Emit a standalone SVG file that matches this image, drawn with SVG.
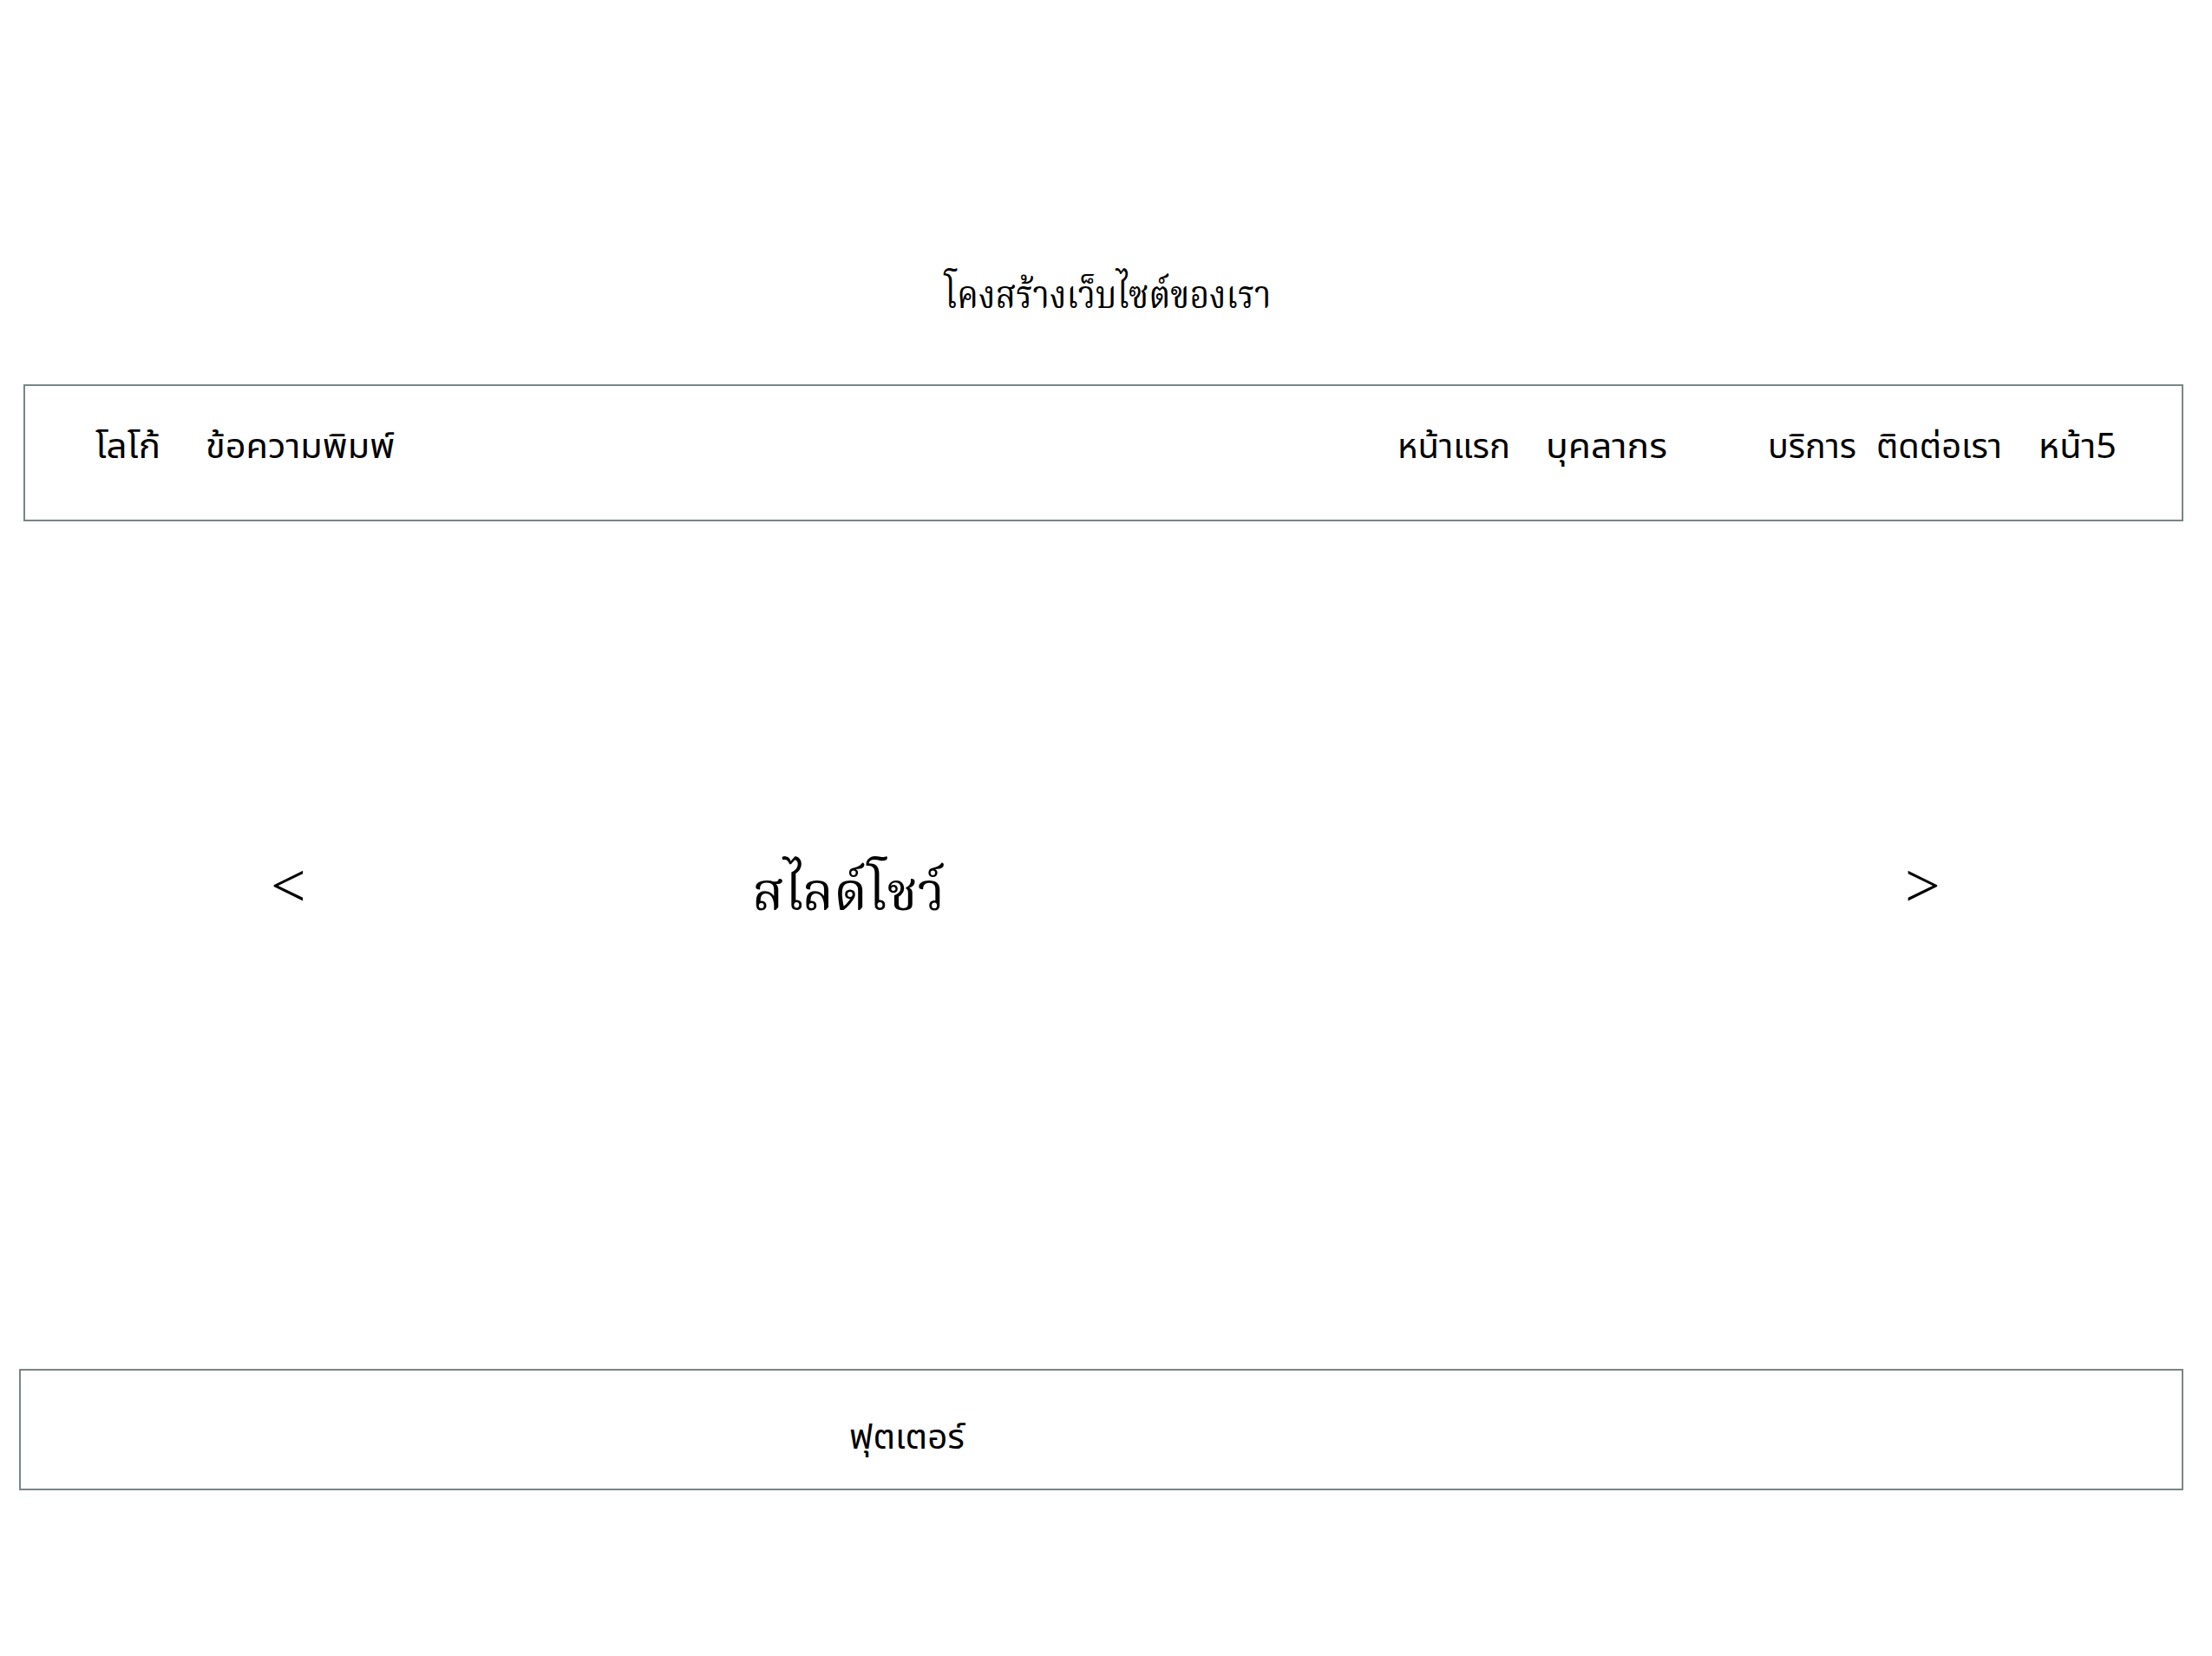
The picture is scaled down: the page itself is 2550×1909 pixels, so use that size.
<svg xmlns="http://www.w3.org/2000/svg" width="2550" height="1909" viewBox="0 0 2550 1909">
<style>
.box{fill:#ffffff;stroke:#7a8585;stroke-width:2}
.serif{font-family:"Noto Serif Thai","Liberation Serif","Noto Sans",serif;fill:#000}
.sans{font-family:"Noto Sans Thai","Noto Sans","Liberation Sans",sans-serif;fill:#000}
.arrow{font-family:"Liberation Serif",serif;fill:#000;font-size:72px}
</style>
<rect x="0" y="0" width="2550" height="1909" fill="#ffffff"/>
<g id="title"><text class="serif" x="1277" y="355" font-size="44" text-anchor="middle" textLength="377" lengthAdjust="spacingAndGlyphs">โคงสร้างเว็บไซต์ของเรา</text></g>
<g id="header">
<rect class="box" x="28" y="444" width="2488" height="156"/>
<text class="sans" x="110" y="528" font-size="40" textLength="75" lengthAdjust="spacingAndGlyphs">โลโก้</text>
<text class="sans" x="237" y="528" font-size="40" textLength="218" lengthAdjust="spacingAndGlyphs">ข้อความพิมพ์</text>
<text class="sans" x="1611" y="528" font-size="40" textLength="130" lengthAdjust="spacingAndGlyphs">หน้าแรก</text>
<text class="sans" x="1782" y="528" font-size="40" textLength="140" lengthAdjust="spacingAndGlyphs">บุคลากร</text>
<text class="sans" x="2038" y="528" font-size="40" textLength="102" lengthAdjust="spacingAndGlyphs">บริการ</text>
<text class="sans" x="2163" y="528" font-size="40" textLength="145" lengthAdjust="spacingAndGlyphs">ติดต่อเรา</text>
<text class="sans" x="2350" y="528" font-size="40" textLength="90" lengthAdjust="spacingAndGlyphs">หน้า5</text>
</g>
<g id="slideshow">
<text class="arrow" x="312" y="1045">&lt;</text>
<text class="serif" x="867" y="1049" font-size="60" textLength="222" lengthAdjust="spacingAndGlyphs">สไลด์โชว์</text>
<text class="arrow" x="2196" y="1045">&gt;</text>
</g>
<g id="footer">
<rect class="box" x="23" y="1579" width="2493" height="138"/>
<text class="sans" x="979" y="1670" font-size="40" textLength="133" lengthAdjust="spacingAndGlyphs">ฟุตเตอร์</text>
</g>
<g id="connectors"></g>
</svg>
